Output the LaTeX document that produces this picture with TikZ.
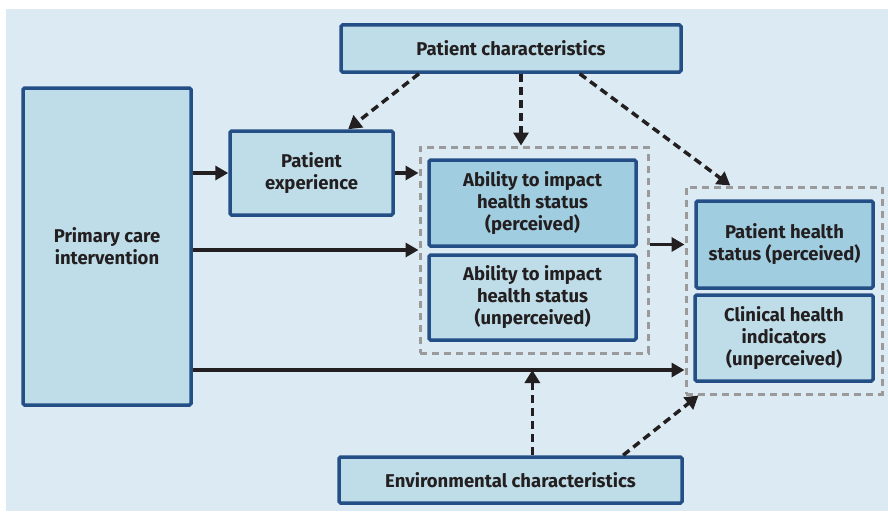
\documentclass[tikz,border=0pt]{standalone}
\usepackage{fontspec}
\setmainfont{Fira Sans}
\usetikzlibrary{arrows.meta,calc}
\definecolor{bgc}{HTML}{DCEBF3}
\definecolor{boxlight}{HTML}{BEDDE8}
\definecolor{boxdark}{HTML}{A0CDE0}
\definecolor{boxline}{HTML}{244F86}
\definecolor{grp}{HTML}{9A9A9A}
\definecolor{ink}{HTML}{231F20}
\tikzset{
  box/.style={draw=boxline, line width=3.5pt, fill=boxlight, rounded corners=1.5pt,
    align=center, text=ink, inner sep=0pt,
    font=\bfseries\fontsize{18.5}{22}\selectfont},
  boxd/.style={box, fill=boxdark},
  grpbox/.style={draw=grp, line width=3pt, dash pattern=on 7pt off 5pt, inner sep=0pt},
  solidarr/.style={draw=ink, line width=3.5pt, -{Triangle[length=13pt,width=14pt]}},
  dasharr/.style={draw=ink, line width=3.5pt, dash pattern=on 8pt off 5pt,
    -{Triangle[length=13pt,width=15pt]}},
}
\begin{document}
\begin{tikzpicture}[x=1pt,y=-1pt]
\useasboundingbox (0,0) rectangle (888,511);
\fill[bgc] (6,9) rectangle (888,511);

% groups of outcomes
\node[grpbox, minimum width=228pt, minimum height=206pt] (g1) at (534,250) {};
\node[grpbox, minimum width=196pt, minimum height=207pt] (g2) at (784,290.5) {};

% boxes
\node[box, minimum width=340pt, minimum height=47pt] (pc) at (511,48.5) {Patient characteristics};
\node[box, minimum width=168pt, minimum height=317pt] (pci) at (107,246.5) {Primary care\\intervention};
\node[box, minimum width=163pt, minimum height=84pt] (pe) at (311.5,173) {Patient\\experience};
\node[boxd, minimum width=207pt, minimum height=86pt] (ap) at (532.5,203) {Ability to impact\\health status\\(perceived)};
\node[box, minimum width=207pt, minimum height=85pt] (au) at (532.5,297.5) {Ability to impact\\health status\\(unperceived)};
\node[boxd, minimum width=177pt, minimum height=87pt] (ph) at (784.5,244.5) {Patient health\\status (perceived)};
\node[box, minimum width=178pt, minimum height=86pt] (ch) at (784,338) {Clinical health\\indicators\\(unperceived)};
\node[box, minimum width=343pt, minimum height=46pt] (ec) at (510.5,480) {Environmental characteristics};

\coordinate (low) at (0,370);

% direct effects
\draw[solidarr] (pci.east |- pe.west) -- (pe.west);
\draw[solidarr] (pe.east) -- (g1.west |- pe.east);
\draw[solidarr] (pci.east |- g1.west) -- (g1.west);
\draw[solidarr] (g1.east |- ph.west) -- (g2.west |- ph.west);
\draw[solidarr] (pci.east |- low) -- (g2.west |- low);

% moderating characteristics
\draw[dasharr] ($(pc.south west)!0.232!(pc.south east)$) -- ($(pe.north west)!0.72!(pe.north east)$);
\draw[dasharr] ([xshift=10pt]pc.south) -- ([xshift=10pt]pc.south |- g1.north);
\draw[dasharr] ($(pc.south west)!0.70!(pc.south east)$) -- ($(g2.north west)!0.23!(g2.north east)$);
\draw[dasharr] ($(ec.north west)!0.563!(ec.north east)$) coordinate (e1) -- (e1 |- low);
\draw[dasharr] ($(ec.north west)!0.825!(ec.north east)$) -- ($(g2.south west)!0.07!(g2.south east)$);
\end{tikzpicture}
\end{document}
